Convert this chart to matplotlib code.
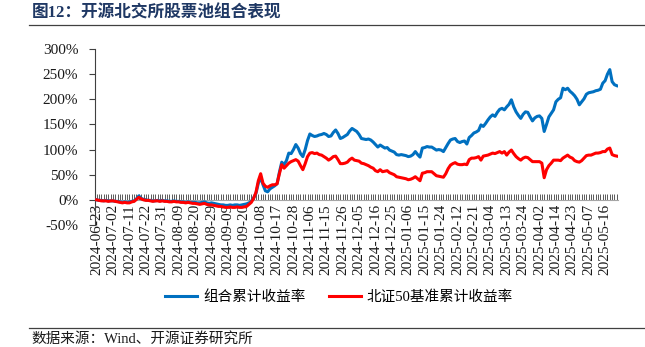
import numpy as np
import matplotlib
matplotlib.use("Agg")
import matplotlib.pyplot as plt
from matplotlib.ticker import FixedLocator, FuncFormatter, MultipleLocator
from matplotlib.lines import Line2D

plt.rcParams['font.family'] = ['Liberation Serif', 'Noto Sans CJK SC']

# Cumulative returns (%) per trading day, 2024-06-24 .. 2025-05-23
portfolio = [
    0, -1, -1, -2, -1, -2, -2,
    -2, -3, -3, -4, -5, -4, -5,
    -4, -3, -2, 2, 8, 3, 1,
    0, -1, -1, -2, -2, -1, -2,
    -1, -2, -2, -3, -3, -2, -3,
    -3, -4, -4, -5, -4, -5, -5,
    -5, -6, -6, -5, -4, -6, -7,
    -6, -7, -8, -9, -10, -10, -11,
    -11, -10, -11, -10, -10, -11, -10,
    -9, -8, -6, -3, 4, 13, 33,
    45, 30, 18, 16, 22, 25, 28,
    32, 55, 75, 70, 78, 93, 92,
    100, 110, 103, 92, 86, 100, 118,
    131, 128, 126, 127, 129, 130, 132,
    130, 126, 127, 134, 139, 132, 122,
    124, 127, 130, 137, 142, 139, 136,
    130, 122, 121, 120, 121, 119, 115,
    110, 105, 109, 106, 103, 104, 99,
    97, 95, 90, 89, 90, 89, 88,
    86, 87, 90, 96, 90, 85, 103,
    104, 106, 105, 105, 102, 99, 100,
    99, 96, 104, 112, 119, 121, 122,
    116, 114, 116, 117, 111, 124, 128,
    133, 135, 138, 149, 146, 152, 159,
    165, 169, 166, 174, 180, 182, 179,
    185, 190, 199, 185, 175, 168, 162,
    170, 175, 174, 165, 157, 163, 166,
    167, 162, 136, 150, 165, 172, 179,
    195, 200, 203, 222, 219, 222, 216,
    212, 207, 200, 189, 195, 201, 210,
    213, 214, 215, 217, 218, 220, 232,
    237, 250, 259, 235, 229, 227,
]

benchmark = [
    0, -1, -2, -2, -2, -3, -2,
    -2, -3, -4, -5, -6, -5, -6,
    -6, -4, -3, 1, 5, 2, 0,
    -1, -1, -2, -3, -2, -2, -3,
    -2, -3, -3, -4, -4, -3, -4,
    -4, -5, -5, -6, -5, -6, -7,
    -7, -8, -9, -8, -7, -9, -10,
    -10, -11, -12, -13, -13, -14, -15,
    -15, -14, -15, -15, -14, -15, -15,
    -14, -13, -9, -5, 3, 15, 38,
    52, 33, 27, 25, 28, 30, 30,
    32, 52, 70, 63, 68, 73, 76,
    78, 80, 77, 68, 60, 72, 86,
    93, 94, 92, 93, 90, 89, 86,
    83, 79, 82, 86, 87, 80, 72,
    72, 73, 75, 80, 83, 79, 78,
    77, 73, 72, 70, 68, 65, 63,
    58, 56, 60, 56, 57, 58, 54,
    52, 50, 46, 45, 44, 43, 42,
    40, 41, 43, 46, 42, 38, 53,
    54, 56, 56, 56, 52, 48, 47,
    46, 45, 52, 62, 69, 72, 74,
    71, 70, 70, 71, 70, 80, 83,
    83, 84, 86, 79, 87, 88, 89,
    91, 93, 92, 94, 96, 93, 96,
    89, 95, 99, 92, 86, 82, 79,
    83, 85, 84, 80, 76, 76, 76,
    76, 73, 44, 60, 68, 73, 79,
    79, 79, 78, 83, 86, 89, 85,
    83, 78, 76, 75, 78, 83, 88,
    89, 89, 91, 93, 93, 94, 96,
    96, 101, 103, 90, 88, 87,
]

date_labels = [
    "2024-06-23", "2024-07-02", "2024-07-11", "2024-07-22", "2024-07-31",
    "2024-08-09", "2024-08-20", "2024-08-29", "2024-09-09", "2024-09-20",
    "2024-10-08", "2024-10-17", "2024-10-28", "2024-11-06", "2024-11-15",
    "2024-11-26", "2024-12-05", "2024-12-16", "2024-12-25", "2025-01-06",
    "2025-01-15", "2025-01-24", "2025-02-12", "2025-02-21", "2025-03-04",
    "2025-03-13", "2025-03-24", "2025-04-02", "2025-04-14", "2025-04-23",
    "2025-05-07", "2025-05-16",
]
label_step = 7

series_names = ["组合累计收益率", "北证50基准累计收益率"]
series_colors = ["#0070C0", "#FF0000"]

W, H = 645, 347
fig = plt.figure(figsize=(W / 100, H / 100), dpi=100)
ax = fig.add_axes([95 / W, 1 - 225 / H, (618 - 95) / W, (225 - 49) / H])

x = np.arange(len(portfolio))
ax.plot(x, portfolio, color=series_colors[0], lw=2.2, solid_joinstyle='round', zorder=3)
ax.plot(x, benchmark, color=series_colors[1], lw=2.2, solid_joinstyle='round', zorder=4)

ax.set_xlim(-0.7, len(portfolio) - 0.5)
ax.set_ylim(-50, 300)

ax.spines['top'].set_visible(False)
ax.spines['right'].set_visible(False)
ax.spines['bottom'].set_position(('data', 0))
ax.spines['bottom'].set_color('#A6A6A6')
ax.spines['bottom'].set_linewidth(0.8)
ax.spines['left'].set_color('#404040')
ax.spines['left'].set_linewidth(0.8)

ax.yaxis.set_major_locator(MultipleLocator(50))
ax.yaxis.set_major_formatter(FuncFormatter(lambda v, p: f"{v:.0f}%"))
ax.tick_params(axis='y', direction='out', length=4, width=0.8, color='#404040',
               labelsize=11, pad=8, labelcolor='#1a1a1a')

ax.xaxis.set_major_locator(FixedLocator(np.arange(len(date_labels)) * label_step))
ax.set_xticklabels(date_labels, rotation=90, fontsize=11, color='#1a1a1a')
ax.xaxis.set_minor_locator(MultipleLocator(1))
ax.tick_params(axis='x', which='both', direction='in', length=4.5, width=0.6,
               color='#404040', pad=3)

handles = [Line2D([], [], color=c, lw=2.2) for c in series_colors]
fig.legend(handles, series_names, loc='center', ncol=2,
           bbox_to_anchor=(339 / W, 1 - 297 / H), frameon=False,
           prop={'family': ['Liberation Serif', 'Noto Sans CJK SC'], 'size': 10.5},
           handlelength=2.2, handletextpad=0.4, columnspacing=1.6)

# header and footer
fig.text(32 / W, 1 - 13 / H, "图12：开源北交所股票池组合表现", fontsize=12,
         fontweight='bold', color='#1F3864', va='center', ha='left')
fig.add_artist(Line2D([29 / W, 1.0], [1 - 24.5 / H] * 2, color='#404040', lw=0.9))
fig.add_artist(Line2D([29 / W, 1.0], [1 - 327.5 / H] * 2, color='#404040', lw=0.9))
fig.text(31 / W, 1 - 339 / H, "数据来源：Wind、开源证券研究所", fontsize=10.5,
         color='#1a1a1a', va='center', ha='left')

fig.savefig("out.png", dpi=100)
